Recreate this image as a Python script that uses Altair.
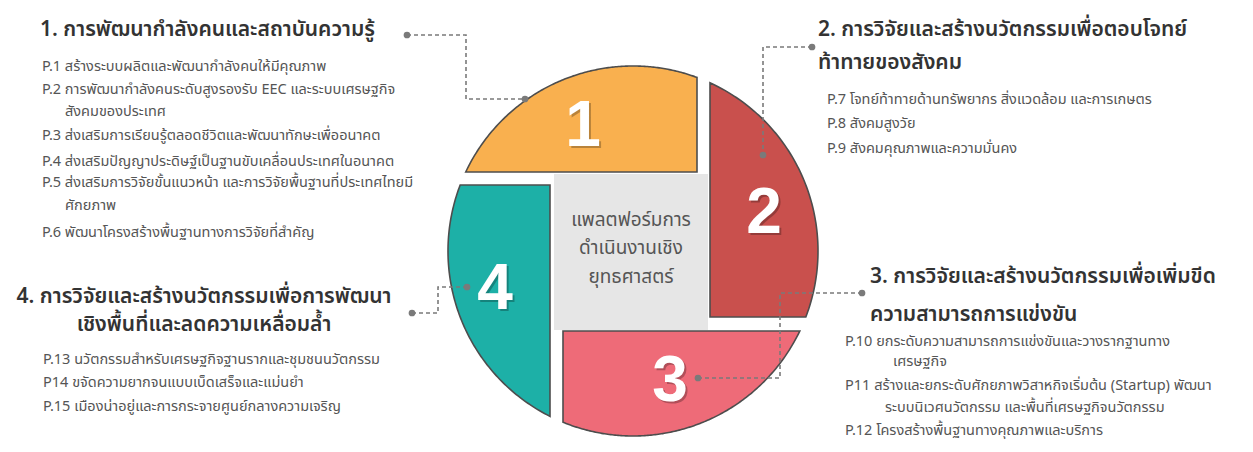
import altair as alt
import numpy as np
import pandas as pd

# ---------------- content ----------------
center_lines = ["แพลตฟอร์มการ", "ดำเนินงานเชิง", "ยุทธศาสตร์"]
segment_numbers = ["1", "2", "3", "4"]
segment_colors = ["#F9B04F", "#C9504D", "#EE6B78", "#1DB0A7"]

heading1 = ["1. การพัฒนากำลังคนและสถาบันความรู้"]
items1 = ["P.1 สร้างระบบผลิตและพัฒนากำลังคนให้มีคุณภาพ",
          "P.2 การพัฒนากำลังคนระดับสูงรองรับ EEC และระบบเศรษฐกิจ",
          "สังคมของประเทศ",
          "P.3 ส่งเสริมการเรียนรู้ตลอดชีวิตและพัฒนาทักษะเพื่ออนาคต",
          "P.4 ส่งเสริมปัญญาประดิษฐ์เป็นฐานขับเคลื่อนประเทศในอนาคต",
          "P.5 ส่งเสริมการวิจัยขั้นแนวหน้า และการวิจัยพื้นฐานที่ประเทศไทยมี",
          "ศักยภาพ",
          "P.6 พัฒนาโครงสร้างพื้นฐานทางการวิจัยที่สำคัญ"]
heading2 = ["2. การวิจัยและสร้างนวัตกรรมเพื่อตอบโจทย์", "ท้าทายของสังคม"]
items2 = ["P.7 โจทย์ท้าทายด้านทรัพยากร สิ่งแวดล้อม และการเกษตร",
          "P.8 สังคมสูงวัย",
          "P.9 สังคมคุณภาพและความมั่นคง"]
heading3 = ["3. การวิจัยและสร้างนวัตกรรมเพื่อเพิ่มขีด", "ความสามารถการแข่งขัน"]
items3 = ["P.10 ยกระดับความสามารถการแข่งขันและวางรากฐานทาง",
          "เศรษฐกิจ",
          "P11 สร้างและยกระดับศักยภาพวิสาหกิจเริ่มต้น (Startup) พัฒนา",
          "ระบบนิเวศนวัตกรรม และพื้นที่เศรษฐกิจนวัตกรรม",
          "P.12 โครงสร้างพื้นฐานทางคุณภาพและบริการ"]
heading4 = ["4. การวิจัยและสร้างนวัตกรรมเพื่อการพัฒนา", "เชิงพื้นที่และลดความเหลื่อมล้ำ"]
items4 = ["P.13 นวัตกรรมสำหรับเศรษฐกิจฐานรากและชุมชนนวัตกรรม",
          "P14 ขจัดความยากจนแบบเบ็ดเสร็จและแม่นยำ",
          "P.15 เมืองน่าอยู่และการกระจายศูนย์กลางความเจริญ"]

# ---------------- layout (page pixel coordinates) ----------------
W, H = 1237, 436
CX, CY, R = 633, 251, 185
FONT = "Noto Sans Thai, Noto Sans, Tahoma, sans-serif"

xs = alt.Scale(domain=[8, 8 + W], nice=False, zero=False)
ys = alt.Scale(domain=[8, 8 + H], nice=False, zero=False, reverse=True)


def X(f):
    return alt.X(f, type="quantitative", scale=xs, axis=None)


def Y(f):
    return alt.Y(f, type="quantitative", scale=ys, axis=None)


def half(d):
    return np.sqrt(np.clip(R ** 2 - np.asarray(d, float) ** 2, 0, None))


n = 160
# segment 1 (top, orange)
x1 = np.linspace(CX - half(CY - 172), 697, n)
seg1 = pd.DataFrame({"x": x1, "y": CY - half(x1 - CX), "y2": 172.0})
# segment 2 (right, red)
y2 = np.linspace(CY - half(710 - CX), 317, n)
seg2 = pd.DataFrame({"y": y2, "x": 710.0, "x2": CX + half(y2 - CY)})
# segment 3 (bottom, pink)
x3 = np.linspace(563, CX + half(331 - CY), n)
seg3 = pd.DataFrame({"x": x3, "y": 331.0, "y2": CY + half(x3 - CX)})
# segment 4 (left, teal)
y4 = np.linspace(185, CY + half(550 - CX), n)
seg4 = pd.DataFrame({"y": y4, "x": CX - half(y4 - CY), "x2": 550.0})

STROKE = "#4d4d4d"
a1 = alt.Chart(seg1).mark_area(orient="vertical", fill=segment_colors[0], stroke=STROKE, strokeWidth=1.6).encode(
    x=X("x"), y=Y("y"), y2="y2")
a2 = alt.Chart(seg2).mark_area(orient="horizontal", fill=segment_colors[1], stroke=STROKE, strokeWidth=1.6).encode(
    y=Y("y"), x=X("x"), x2="x2")
a3 = alt.Chart(seg3).mark_area(orient="vertical", fill=segment_colors[2], stroke=STROKE, strokeWidth=1.6).encode(
    x=X("x"), y=Y("y"), y2="y2")
a4 = alt.Chart(seg4).mark_area(orient="horizontal", fill=segment_colors[3], stroke=STROKE, strokeWidth=1.6).encode(
    y=Y("y"), x=X("x"), x2="x2")

center_box = pd.DataFrame({"x": [554], "x2": [708], "y": [174], "y2": [330]})
box = alt.Chart(center_box).mark_rect(color="#e6e6e6").encode(x=X("x"), x2="x2", y=Y("y"), y2="y2")

# connectors
conn_pts = {
    "c1": [(407, 35), (466, 35), (466, 99), (525, 99)],
    "c2": [(812, 47), (763, 47), (763, 155)],
    "c3": [(862, 293), (780, 293), (780, 378), (698, 378)],
    "c4": [(412, 313), (438, 313), (438, 287), (467, 287)],
}
rows = []
dots = []
for k, pts in conn_pts.items():
    for i, (px, py) in enumerate(pts):
        rows.append({"id": k, "o": i, "x": px, "y": py})
    dots.append({"x": pts[0][0], "y": pts[0][1]})
    dots.append({"x": pts[-1][0], "y": pts[-1][1]})
conn_df = pd.DataFrame(rows)
dot_df = pd.DataFrame(dots)
lines = alt.Chart(conn_df).mark_line(color="#7a7a7a", strokeWidth=1.6, strokeDash=[4, 3]).encode(
    x=X("x"), y=Y("y"), detail="id:N", order="o:Q")
dotm = alt.Chart(dot_df).mark_circle(color="#7a7a7a", size=45, opacity=1).encode(x=X("x"), y=Y("y"))

# digits
num_df = pd.DataFrame({"t": segment_numbers, "x": [583, 764, 670, 495], "y": [127, 214, 382, 290]})
num_shadow = alt.Chart(num_df).mark_text(font="Liberation Sans", fontWeight="bold", fontSize=64,
                                         color="#000000", opacity=0.25, dx=2, dy=2, baseline="middle").encode(
    x=X("x"), y=Y("y"), text="t:N")
num_text = alt.Chart(num_df).mark_text(font="Liberation Sans", fontWeight="bold", fontSize=64,
                                       color="white", baseline="middle").encode(
    x=X("x"), y=Y("y"), text="t:N")

# center text
ctr_df = pd.DataFrame({"t": center_lines, "x": [631] * 3, "y": [220, 248, 277]})
ctr = alt.Chart(ctr_df).mark_text(font=FONT, fontSize=19, color="#555555", baseline="middle").encode(
    x=X("x"), y=Y("y"), text="t:N")

# headings (left aligned)
head_df = pd.DataFrame({
    "t": heading1 + heading2 + heading3,
    "x": [40, 818, 818, 870, 870],
    "y": [30, 30, 63, 277, 315],
})
heads = alt.Chart(head_df).mark_text(font=FONT, fontSize=21, fontWeight=600, color="#333333",
                                     align="left", baseline="middle").encode(x=X("x"), y=Y("y"), text="t:N")
head4_df = pd.DataFrame({"t": heading4, "x": [204, 204], "y": [297, 325]})
heads4 = alt.Chart(head4_df).mark_text(font=FONT, fontSize=21, fontWeight=600, color="#333333",
                                       align="center", baseline="middle").encode(x=X("x"), y=Y("y"), text="t:N")

# items
item_df = pd.DataFrame({
    "t": items1 + items2 + items3 + items4,
    "x": [42, 42, 65, 42, 42, 42, 65, 42,
          827, 827, 827,
          845, 893, 845, 885, 845,
          43, 43, 43],
    "y": [67, 90, 112, 136, 162, 183, 206, 233,
          100, 124, 149,
          342, 362, 386, 408, 431,
          360, 383, 407],
})
items = alt.Chart(item_df).mark_text(font=FONT, fontSize=14.5, color="#555555",
                                     align="left", baseline="middle").encode(x=X("x"), y=Y("y"), text="t:N")

chart = alt.layer(a1, a2, a3, a4, box, lines, dotm, num_shadow, num_text, ctr, heads, heads4, items).properties(
    width=W, height=H, padding=0, autosize=alt.AutoSizeParams(type="none"), background="white"
).configure_view(stroke=None)

chart.save("out.html", embed_options={"renderer": "svg", "actions": False})
